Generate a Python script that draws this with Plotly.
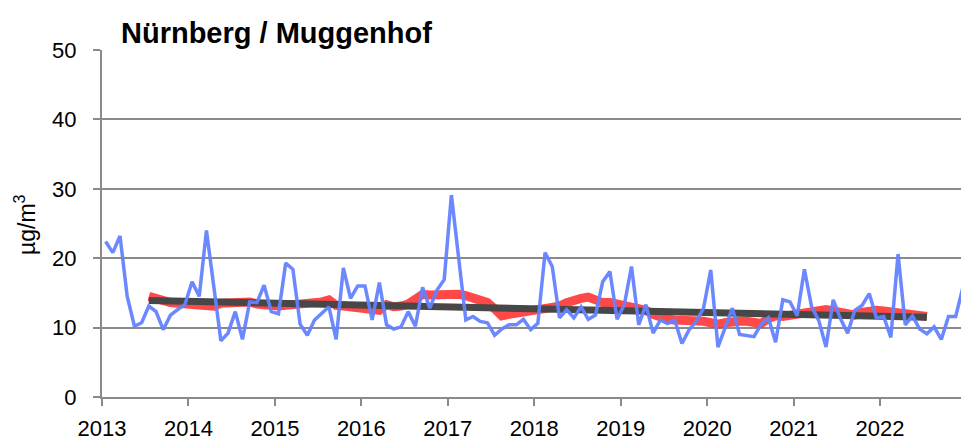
import plotly.graph_objects as go

# Monthly values Jan 2013 .. Dec 2022 (µg/m³)
monthly = [
    22.4, 20.8, 23.2, 14.5, 10.2, 10.7, 13.1, 12.3, 9.7, 11.8, 12.6, 13.3,   # 2013
    16.6, 14.5, 24.0, 16.0, 8.1, 9.2, 12.3, 8.3, 13.7, 13.6, 16.1, 12.3,     # 2014
    12.0, 19.3, 18.4, 10.5, 8.9, 11.1, 12.1, 13.0, 8.3, 18.6, 14.2, 16.0,    # 2015
    16.0, 11.1, 16.5, 10.4, 9.8, 10.1, 12.3, 10.2, 15.8, 12.8, 15.4, 16.9,   # 2016
    29.1, 20.0, 11.1, 11.6, 10.9, 10.7, 8.9, 9.8, 10.4, 10.4, 11.2, 9.7,     # 2017
    10.6, 20.8, 18.8, 11.4, 12.6, 11.4, 13.0, 11.2, 11.8, 16.6, 18.1, 11.2,  # 2018
    13.3, 18.8, 10.4, 13.3, 9.2, 11.1, 10.6, 11.1, 7.7, 9.7, 10.9, 12.8,     # 2019
    18.3, 7.2, 10.0, 12.8, 9.0, 8.9, 8.7, 10.5, 11.4, 7.9, 14.0, 13.7,       # 2020
    11.7, 18.4, 13.0, 11.0, 7.2, 14.0, 11.3, 9.2, 12.5, 13.2, 14.9, 11.4,    # 2021
    11.6, 8.6, 20.6, 10.4, 11.7, 9.8, 9.1, 10.1, 8.3, 11.6, 11.6, 15.8,      # 2022
]

# 12-month moving average, Jul 2013 .. Jul 2022
moving_avg = [
    14.5, 14.1, 13.8, 13.6, 13.5, 13.4,
    13.3, 13.1, 12.9, 13.1, 13.5, 13.6, 13.7, 13.6, 13.7, 13.4, 13.2, 13.1,
    13.1, 13.2, 13.3, 13.3, 13.2, 13.4, 13.7, 14.0, 13.2, 13.1, 13.0, 13.0,
    13.0, 12.9, 12.5, 13.3, 13.0, 13.1, 13.4, 14.1, 14.8, 14.7, 14.8, 14.9,
    15.0, 14.8, 14.6, 14.3, 14.0, 13.6, 12.7, 11.7, 11.9, 12.1, 12.2, 12.4,
    12.6, 12.8, 12.8, 13.1, 13.6, 14.0, 14.2, 14.4, 14.0, 13.6, 13.6, 13.4,
    13.3, 13.2, 13.0, 12.5, 11.9, 11.5, 11.2, 11.1, 11.1, 11.2, 11.0, 10.9,
    10.7, 10.5, 10.7, 10.9, 10.9, 10.9, 10.6, 10.6, 11.3, 11.7, 11.6, 11.8,
    12.0, 12.1, 12.2, 12.3, 12.6, 12.4, 12.3, 12.0, 11.8, 12.2, 12.4, 12.5,
    12.4, 12.3, 12.2, 12.1, 11.9, 11.7, 11.6,
]
ma_start_month = 6  # index of Jul 2013

# Linear trend endpoints (Jul 2013, Jul 2022)
trend_values = [13.9, 11.5]
trend_months = [6, 114]

year_ticks = list(range(2013, 2023))
y_ticks = [0, 10, 20, 30, 40, 50]

def month_to_x(i):
    return 2013 + (i + 0.5) / 12.0

x_monthly = [month_to_x(i) for i in range(len(monthly))]
x_ma = [month_to_x(ma_start_month + k) for k in range(len(moving_avg))]
x_trend = [month_to_x(i) for i in trend_months]

fig = go.Figure()
fig.add_trace(go.Scatter(x=x_ma, y=moving_avg, mode="lines",
                         line=dict(color="rgba(255,40,40,0.85)", width=9),
                         hoverinfo="skip"))
fig.add_trace(go.Scatter(x=x_trend, y=trend_values, mode="lines",
                         line=dict(color="#474747", width=7),
                         hoverinfo="skip"))
fig.add_trace(go.Scatter(x=x_monthly, y=monthly, mode="lines",
                         line=dict(color="rgba(100,130,255,0.95)", width=3.5),
                         hoverinfo="skip"))

font_family = "Liberation Sans, Arial, sans-serif"
axis_gray = "#8a8a8a"

W, H = 961, 442
fig.update_layout(
    width=W, height=H,
    margin=dict(l=102, r=0, t=50, b=45),
    paper_bgcolor="white", plot_bgcolor="white",
    showlegend=False,
    font=dict(family=font_family, size=22, color="black"),
    title=dict(text="<b>Nürnberg / Muggenhof</b>", x=121 / W, xanchor="left",
               xref="container", y=1 - 32.5 / H, yref="container", yanchor="middle",
               font=dict(size=29, family=font_family, color="black")),
    xaxis=dict(range=[2013, 2013 + 859 / 86.45], tickvals=year_ticks,
               ticktext=[str(y) for y in year_ticks],
               showgrid=False, zeroline=False, showline=True, linecolor=axis_gray,
               linewidth=2, ticks="outside", ticklen=7, tickcolor=axis_gray, tickwidth=2,
               ticklabelstandoff=4, tickfont=dict(size=22)),
    yaxis=dict(range=[0, 50], tickvals=y_ticks, showgrid=True, gridcolor=axis_gray,
               gridwidth=2, zeroline=False, showline=True, linecolor=axis_gray,
               linewidth=2, ticks="outside", ticklen=7, tickcolor=axis_gray, tickwidth=2,
               ticklabelstandoff=12, tickfont=dict(size=22)),
    annotations=[dict(text="µg/m<sup>3</sup>", xref="paper", yref="paper",
                      x=(25 - 102) / 859, y=(397 - 225) / 347, textangle=-90,
                      showarrow=False, font=dict(size=23, family=font_family),
                      xanchor="center", yanchor="middle")],
)

fig.write_html(
    "out.html",
    config={"displayModeBar": False, "staticPlot": True},
    post_script="document.body.style.margin='0';document.body.style.overflow='hidden';",
)
